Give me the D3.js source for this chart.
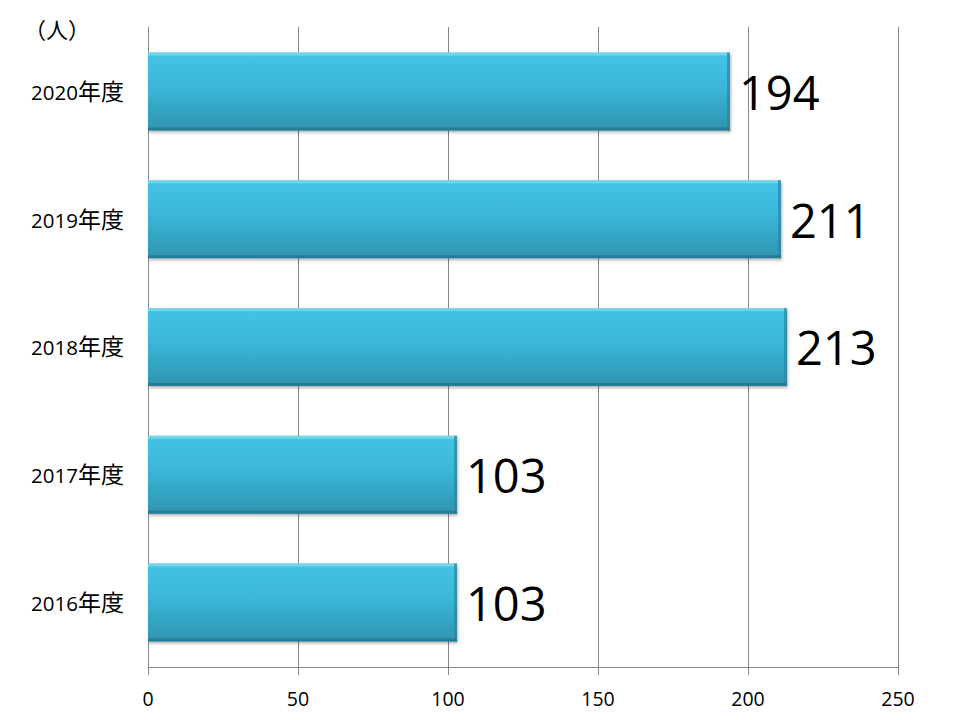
<!DOCTYPE html>
<html><head><meta charset="utf-8">
<script src="https://cdn.jsdelivr.net/npm/d3@7"></script>
<style>body{margin:0;background:#fff;} text{font-family:"Open Sans","Noto Sans CJK JP",sans-serif;}</style>
</head><body>
<svg id="c" width="960" height="720"></svg>
<script>
const categories = ["2020年度","2019年度","2018年度","2017年度","2016年度"];
const values = [194, 211, 213, 103, 103];
const xTicks = [0, 50, 100, 150, 200, 250];
const unitLabel = "（人）";

const svg = d3.select("#c");
const m = {l:148, r:62, t:27, b:53};
const W = 960 - m.l - m.r, H = 720 - m.t - m.b;
const x = d3.scaleLinear().domain([0,250]).range([0,W]);
const y = d3.scaleBand().domain(categories).range([0,H]).paddingInner(0.39).paddingOuter(0.2);

const defs = svg.append("defs");
const g1 = defs.append("linearGradient").attr("id","bar").attr("x1",0).attr("y1",0).attr("x2",0).attr("y2",1);
g1.append("stop").attr("offset","0%").attr("stop-color","#45c3e6");
g1.append("stop").attr("offset","45%").attr("stop-color","#3ab6d9");
g1.append("stop").attr("offset","100%").attr("stop-color","#2f93b0");
const f = defs.append("filter").attr("id","sh").attr("x","-5%").attr("y","-10%").attr("width","110%").attr("height","130%");
f.append("feDropShadow").attr("dx",1).attr("dy",2).attr("stdDeviation",1.5).attr("flood-color","#000").attr("flood-opacity",0.3);

const g = svg.append("g").attr("transform",`translate(${m.l},${m.t})`);

// grid
g.selectAll(".grid").data(xTicks).join("line")
  .attr("x1",d=>Math.round(x(d))+0.5).attr("x2",d=>Math.round(x(d))+0.5)
  .attr("y1",0).attr("y2",H+8).attr("stroke","#868686").attr("stroke-width",1);
g.append("line").attr("x1",0).attr("x2",W+1).attr("y1",H+0.5).attr("y2",H+0.5).attr("stroke","#868686");

// x tick labels
g.selectAll(".tl").data(xTicks).join("text")
  .attr("x",d=>x(d)).attr("y",H+39).attr("text-anchor","middle")
  .attr("font-size",19.5).attr("fill","#000").text(d=>d);

// bars
const bars = g.selectAll(".b").data(categories).join("g");
bars.append("rect")
  .attr("x",0).attr("y",d=>y(d)).attr("width",(d,i)=>x(values[i])).attr("height",y.bandwidth())
  .attr("fill","url(#bar)").attr("filter","url(#sh)");
// bevel highlights
bars.append("rect")
  .attr("x",0).attr("y",d=>y(d)).attr("width",(d,i)=>x(values[i])).attr("height",3)
  .attr("fill","#7fd8ee").attr("opacity",0.8);
bars.append("rect")
  .attr("x",(d,i)=>x(values[i])-3).attr("y",d=>y(d)).attr("width",3).attr("height",y.bandwidth())
  .attr("fill","#2a86a0").attr("opacity",0.7);
bars.append("rect")
  .attr("x",0).attr("y",d=>y(d)+y.bandwidth()-3).attr("width",(d,i)=>x(values[i])).attr("height",3)
  .attr("fill","#25768e").attr("opacity",0.8);

// value labels
g.selectAll(".v").data(categories).join("text")
  .attr("x",(d,i)=>x(values[i])+9).attr("y",d=>y(d)+y.bandwidth()/2+1.5)
  .attr("dy","0.36em").attr("font-size",47).attr("fill","#000")
  .text((d,i)=>values[i]);

// category labels
const cl = g.selectAll(".c").data(categories).join("text")
  .attr("x",-24).attr("y",d=>y(d)+y.bandwidth()/2+2.5).attr("dy","0.36em")
  .attr("text-anchor","end").attr("fill","#000");
cl.append("tspan").attr("font-size",20.5).text(d=>d.slice(0,4));
cl.append("tspan").attr("font-size",23).attr("font-family","Noto Sans CJK JP").text(d=>d.slice(4));

svg.append("text").attr("x",24).attr("y",38).attr("font-size",22)
  .attr("font-family","Noto Sans CJK JP").attr("fill","#000").text(unitLabel);
</script>
</body></html>
